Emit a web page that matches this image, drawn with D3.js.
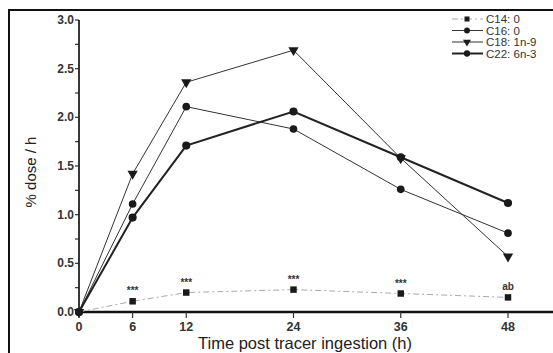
<!DOCTYPE html>
<html>
<head>
<meta charset="UTF-8">
<title>Tracer oxidation</title>
<script src="https://d3js.org/d3.v7.min.js"></script>
<style>
  body { margin: 0; background: #fff; }
  svg { font-family: "Liberation Sans", Arial, sans-serif; }
</style>
</head>
<body>
<div id="chart"></div>
<script>
// data
var hours = [0, 6, 12, 24, 36, 48];
var c14 = [0, 0.11, 0.20, 0.23, 0.19, 0.15];
var c16 = [0, 1.11, 2.11, 1.88, 1.26, 0.81];
var c18 = [0, 1.42, 2.36, 2.69, 1.58, 0.57];
var c22 = [0, 0.97, 1.71, 2.06, 1.59, 1.12];
var signif = ["", "***", "***", "***", "***", "ab"];
var yTicks = [0, 0.5, 1.0, 1.5, 2.0, 2.5, 3.0];

var W = 553, H = 353;
var svg = d3.select("#chart").append("svg")
    .attr("width", W).attr("height", H);

// frame
svg.append("path")
    .attr("d", "M9," + H + "V10H" + W)
    .attr("fill", "none").attr("stroke", "#111").attr("stroke-width", 2);

var x = d3.scaleLinear().domain([0, 48]).range([79, 508]);
var y = d3.scaleLinear().domain([0, 3]).range([312, 20]);

// y axis with minor ticks
var yMinor = d3.range(0, 3.01, 0.25);
svg.append("g").selectAll("line").data(yMinor).join("line")
    .attr("x1", 75).attr("x2", 79)
    .attr("y1", function(d) { return y(d); }).attr("y2", function(d) { return y(d); })
    .attr("stroke", "#333").attr("stroke-width", 1.2);
svg.append("line").attr("x1", 79).attr("x2", 79).attr("y1", y(3)).attr("y2", y(0))
    .attr("stroke", "#222").attr("stroke-width", 1.8);
svg.append("g").selectAll("text").data(yTicks).join("text")
    .attr("x", 74).attr("y", function(d) { return y(d) + 4; })
    .attr("text-anchor", "end").attr("font-size", 12).attr("fill", "#333")
    .attr("font-weight", "bold")
    .text(function(d) { return d3.format(".1f")(d); });

// x axis
svg.append("line").attr("x1", 79).attr("x2", W).attr("y1", y(0)).attr("y2", y(0))
    .attr("stroke", "#111").attr("stroke-width", 2.5);
svg.append("g").selectAll("line").data(hours).join("line")
    .attr("x1", function(d) { return x(d); }).attr("x2", function(d) { return x(d); })
    .attr("y1", y(0)).attr("y2", y(0) + 6)
    .attr("stroke", "#333").attr("stroke-width", 1.2);
svg.append("g").selectAll("text").data(hours).join("text")
    .attr("x", function(d) { return x(d); }).attr("y", y(0) + 19)
    .attr("text-anchor", "middle").attr("font-size", 12.5).attr("fill", "#333")
    .attr("font-weight", "bold")
    .text(function(d) { return d; });

// axis titles
svg.append("text").attr("x", 305).attr("y", 349)
    .attr("text-anchor", "middle").attr("font-size", 16.5).attr("fill", "#222")
    .text("Time post tracer ingestion (h)");
svg.append("text").attr("transform", "translate(36,172) rotate(-90)")
    .attr("text-anchor", "middle").attr("font-size", 15).attr("fill", "#222")
    .text("% dose / h");

var series = [
  { name: "C14: 0", vals: c14, shape: "square", width: 1, color: "#aaa", dash: "6,3,2,3" },
  { name: "C16: 0", vals: c16, shape: "circle", width: 1, color: "#333", dash: null },
  { name: "C18: 1n-9", vals: c18, shape: "triangle", width: 1, color: "#333", dash: null },
  { name: "C22: 6n-3", vals: c22, shape: "diamond", width: 2, color: "#222", dash: null }
];

function symbolFor(shape, k) {
  if (shape == "square") return d3.symbol().type(d3.symbolSquare).size(42 * k);
  if (shape == "circle") return d3.symbol().type(d3.symbolCircle).size(46 * k);
  if (shape == "triangle") return d3.symbol().type(d3.symbolTriangle).size(46 * k);
  return d3.symbol().type(d3.symbolCircle).size(52 * k);
}

var line = d3.line()
    .x(function(d, i) { return x(hours[i]); })
    .y(function(d) { return y(d); });

series.forEach(function(s) {
  svg.append("path").datum(s.vals)
      .attr("d", line)
      .attr("fill", "none")
      .attr("stroke", s.color)
      .attr("stroke-width", s.width)
      .attr("stroke-dasharray", s.dash);
  svg.append("g").selectAll("path").data(s.vals).join("path")
      .attr("d", symbolFor(s.shape, 1))
      .attr("transform", function(d, i) {
        var rot = s.shape == "triangle" ? " rotate(180)" : "";
        return "translate(" + x(hours[i]) + "," + y(d) + ")" + rot;
      })
      .attr("fill", "#1a1a1a");
});

// significance marks above C14
svg.append("g").selectAll("text").data(c14).join("text")
    .attr("x", function(d, i) { return x(hours[i]); })
    .attr("y", function(d) { return y(d) - 7; })
    .attr("text-anchor", "middle").attr("font-size", 10).attr("fill", "#333")
    .attr("font-weight", "bold")
    .text(function(d, i) { return signif[i]; });

// legend
var leg = svg.append("g");
series.forEach(function(s, i) {
  var ly = 19 + i * 11.5;
  leg.append("line").attr("x1", 452).attr("x2", 483).attr("y1", ly).attr("y2", ly)
      .attr("stroke", s.color).attr("stroke-width", s.width)
      .attr("stroke-dasharray", s.dash);
  leg.append("path").attr("d", symbolFor(s.shape, 0.6))
      .attr("transform", "translate(467," + ly + ")" + (s.shape == "triangle" ? " rotate(180)" : ""))
      .attr("fill", "#1a1a1a");
  leg.append("text").attr("x", 486).attr("y", ly + 4)
      .attr("font-size", 11.5).attr("fill", "#333")
      .text(s.name);
});
</script>
</body>
</html>
